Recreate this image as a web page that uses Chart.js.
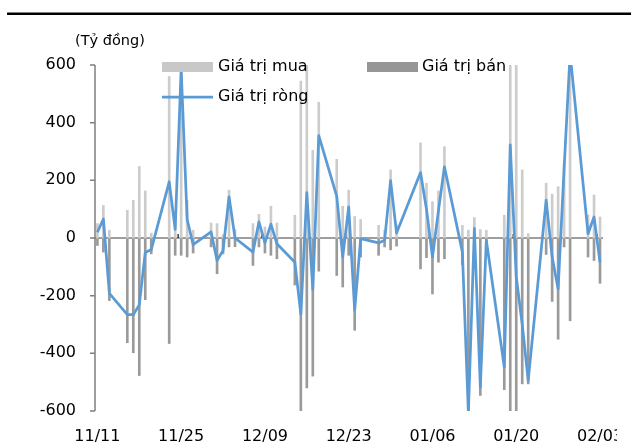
<!DOCTYPE html>
<html>
<head>
<meta charset="utf-8">
<script src="https://cdn.jsdelivr.net/npm/chart.js@4/dist/chart.umd.min.js"></script>
<style>
html, body { margin: 0; padding: 0; background: #fff; }
</style>
</head>
<body>
<canvas id="chart" width="631" height="446"></canvas>
<script>
// trading days (11/2020 - 02/2021)
const dates = [
  '2020-11-11','2020-11-12','2020-11-13','2020-11-16','2020-11-17','2020-11-18','2020-11-19','2020-11-20',
  '2020-11-23','2020-11-24','2020-11-25','2020-11-26','2020-11-27',
  '2020-11-30','2020-12-01','2020-12-02','2020-12-03','2020-12-04',
  '2020-12-07','2020-12-08','2020-12-09','2020-12-10','2020-12-11',
  '2020-12-14','2020-12-15','2020-12-16','2020-12-17','2020-12-18',
  '2020-12-21','2020-12-22','2020-12-23','2020-12-24','2020-12-25',
  '2020-12-28','2020-12-29','2020-12-30','2020-12-31',
  '2021-01-04','2021-01-05','2021-01-06','2021-01-07','2021-01-08',
  '2021-01-11','2021-01-12','2021-01-13','2021-01-14','2021-01-15',
  '2021-01-18','2021-01-19','2021-01-20','2021-01-21','2021-01-22',
  '2021-01-25','2021-01-26','2021-01-27','2021-01-28','2021-01-29',
  '2021-02-01','2021-02-02','2021-02-03'
];

const buyValues = [
  50, 113, 27, 96, 131, 248, 163, 17,
  560, 90, 645, 130, 27,
  52, 50, 12, 166, 30,
  50, 82, 38, 110, 52,
  79, 544, 677, 304, 471,
  273, 110, 166, 75, 64,
  44, 27, 236, 45,
  330, 190, 126, 163, 317,
  44, 27, 71, 29, 27,
  79, 950, 900, 236, 15,
  190, 152, 178, 259, 900,
  80, 149, 73
];

const sellValues = [
  -26, -49, -217, -363, -398, -477, -214, -55,
  -366, -60, -60, -66, -52,
  -31, -124, -55, -31, -30,
  -95, -31, -52, -60, -72,
  -163, -810, -520, -479, -115,
  -130, -170, -60, -320, -66,
  -60, -31, -41, -28,
  -107, -68, -194, -84, -72,
  -93, -634, -38, -546, -35,
  -526, -627, -1034, -506, -506,
  -57, -220, -351, -31, -287,
  -66, -78, -157
];

const netValues = [
  20, 66, -192, -266, -266, -232, -50, -40,
  195, 30, 585, 64, -23,
  21, -78, -43, 143, 0,
  -49, 56, -17, 48, -20,
  -84, -264, 157, -178, 355,
  145, -66, 108, -250, -2,
  -17, -8, 199, 17,
  227, 100, -66, 95, 247,
  -49, -607, 33, -517, -8,
  -448, 323, -134, -300, -494,
  131, -66, -177, 240, 640,
  15, 73, -84
];

const tickDays = [0, 14, 28, 42, 56, 70, 84];
const yTicks = [-600, -400, -200, 0, 200, 400, 600];

const DAY = 86400000;
const start = Date.parse(dates[0]);
const dayOf = d => Math.round((Date.parse(d) - start) / DAY);
const pad2 = n => String(n).padStart(2, '0');
const labelOf = v => {
  const d = new Date(start + v * DAY);
  return pad2(d.getUTCMonth() + 1) + '/' + pad2(d.getUTCDate());
};

const FONT = 'DejaVu Sans';
const AXIS = '#7f7f7f';

const extras = {
  id: 'extras',
  beforeDatasetsDraw(chart) {
    // axes drawn by hand: vertical axis, its ticks, zero line with small ticks
    const ctx = chart.ctx, x = chart.scales.x, y = chart.scales.y, a = chart.chartArea;
    const y0 = y.getPixelForValue(0);
    ctx.save();
    ctx.strokeStyle = AXIS;
    ctx.lineWidth = 1.5;
    ctx.beginPath();
    ctx.moveTo(a.left, a.top);
    ctx.lineTo(a.left, a.bottom);
    yTicks.forEach(v => {
      const py = y.getPixelForValue(v);
      ctx.moveTo(a.left - 5, py);
      ctx.lineTo(a.left, py);
    });
    ctx.moveTo(a.left, y0);
    ctx.lineTo(a.right, y0);
    ctx.stroke();
    ctx.strokeStyle = '#404040';
    ctx.beginPath();
    tickDays.slice(1).forEach(d => {
      const px = x.getPixelForValue(d - 0.5);
      ctx.moveTo(px, y0 - 4);
      ctx.lineTo(px, y0);
    });
    ctx.stroke();
    ctx.restore();
  },
  afterDraw(chart) {
    const ctx = chart.ctx;
    ctx.save();
    // rule under the (cut) title
    ctx.fillStyle = '#000';
    ctx.fillRect(7, 12.5, 624, 2.5);
    // last x label is cut like in the source crop
    ctx.fillStyle = '#fff';
    ctx.fillRect(617, 415, 20, 31);

    ctx.font = '14.5px "' + FONT + '"';
    ctx.fillStyle = '#000';
    ctx.textBaseline = 'middle';
    ctx.fillText('(Tỷ đồng)', 75, 41);

    ctx.font = '16px "' + FONT + '"';
    ctx.fillStyle = '#c8c8c8';
    ctx.fillRect(162, 62, 51, 10);
    ctx.fillStyle = '#969696';
    ctx.fillRect(367, 62, 51, 10);
    ctx.strokeStyle = '#5b9bd5';
    ctx.lineWidth = 2.75;
    ctx.beginPath();
    ctx.moveTo(162, 97);
    ctx.lineTo(213, 97);
    ctx.stroke();
    ctx.fillStyle = '#000';
    ctx.fillText('Giá trị mua', 218, 67);
    ctx.fillText('Giá trị bán', 422, 67);
    ctx.fillText('Giá trị ròng', 218, 97);
    ctx.restore();
  }
};

const toPoints = vals => dates.map((d, i) => ({ x: dayOf(d), y: vals[i] }));

new Chart(document.getElementById('chart'), {
  data: {
    datasets: [
      {
        type: 'line', label: 'Giá trị ròng', data: toPoints(netValues), order: 0,
        borderColor: '#5b9bd5', borderWidth: 2.75, pointRadius: 0, tension: 0,
        borderJoinStyle: 'round'
      },
      {
        type: 'bar', label: 'Giá trị mua', data: toPoints(buyValues), order: 1,
        backgroundColor: '#cccccc', barThickness: 2, grouped: false
      },
      {
        type: 'bar', label: 'Giá trị bán', data: toPoints(sellValues), order: 2,
        backgroundColor: '#9a9a9a', barThickness: 2, grouped: false
      }
    ]
  },
  options: {
    responsive: false,
    animation: false,
    devicePixelRatio: 1,
    layout: { padding: { left: 0, top: 65, right: 28, bottom: 0 } },
    plugins: { legend: { display: false }, tooltip: { enabled: false } },
    scales: {
      x: {
        type: 'linear', min: -0.4, max: 84.5, offset: false,
        afterBuildTicks: s => { s.ticks = tickDays.map(v => ({ value: v })); },
        afterFit: s => { s.height = 35; s.paddingLeft = 0; s.paddingRight = 0; },
        ticks: {
          callback: v => labelOf(v), autoSkip: false, maxRotation: 0,
          color: '#000', padding: 16, font: { family: FONT, size: 16 }
        },
        grid: { display: false, drawTicks: false, offset: false },
        border: { display: false }
      },
      y: {
        min: -600, max: 600,
        afterBuildTicks: s => { s.ticks = yTicks.map(v => ({ value: v })); },
        afterFit: s => { s.width = 95; s.paddingTop = 0; s.paddingBottom = 0; },
        ticks: { color: '#000', padding: 19, font: { family: FONT, size: 16 } },
        grid: { display: false, drawTicks: false },
        border: { display: false }
      }
    }
  },
  plugins: [extras]
});
</script>
</body>
</html>
